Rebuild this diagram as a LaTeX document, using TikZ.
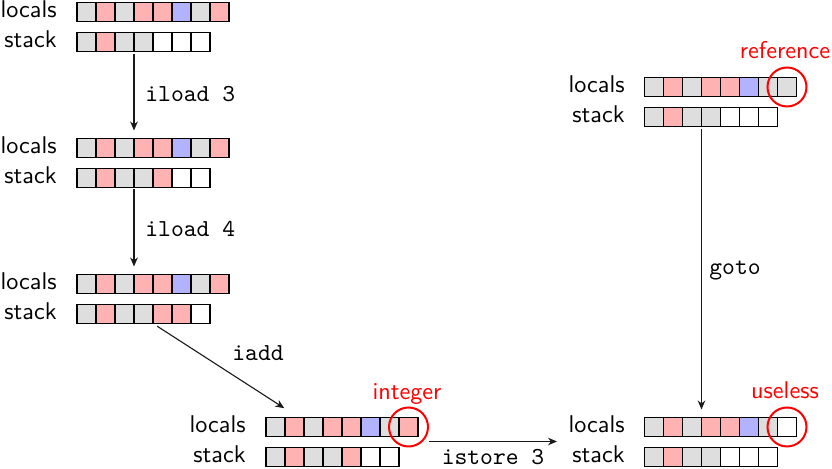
\documentclass[tikz,border=0pt]{standalone}
\usepackage{fontspec}
\setsansfont{lmsans10-regular.otf}
\setmonofont{lmmono10-regular.otf}
\usetikzlibrary{arrows.meta,calc}

% slot colours
\colorlet{cg}{black!13}
\colorlet{cp}{red!30}
\colorlet{cb}{blue!30}
\colorlet{cw}{white}

\tikzset{
  cell/.style={draw=black, line width=0.6pt, minimum size=9.5pt, inner sep=0pt, outer sep=0pt},
  lbl/.style={inner sep=0pt, font=\sffamily\fontsize{12.1}{14}\selectfont},
  instr/.style={inner sep=0pt, font=\ttfamily\fontsize{12.2}{14}\selectfont},
  note/.style={inner sep=0pt, text=red, font=\sffamily\fontsize{12.1}{14}\selectfont},
  ring/.style={draw=red, line width=1pt, circle, minimum size=19.5pt, inner sep=0pt},
  arr/.style={-{Stealth[length=4.5pt,width=3.8pt]}, line width=0.55pt, black!90}
}

% a row of slots: name prefix, left edge, centre line, list of fill colours
\newcommand\slotrow[4]{%
  \foreach \c [count=\i] in {#4}
    \node[cell, fill=\c] (#1\i) at ({#2+19*\i-9.5}, #3) {};
}

\begin{document}
\begin{tikzpicture}[x=0.5pt, y=-0.5pt]
  \useasboundingbox (0,0) rectangle (832,469);

  % frame 1
  \node[lbl, anchor=base east] (b1ln) at (57,18) {locals};
  \node[lbl, anchor=base east] (b1sn) at (57,48) {stack};
  \slotrow{b1l}{77}{12}{cg,cp,cg,cp,cp,cb,cg,cp}
  \slotrow{b1s}{77}{42}{cg,cp,cg,cg,cw,cw,cw}

  % frame 2
  \node[lbl, anchor=base east] (b2ln) at (57,154) {locals};
  \node[lbl, anchor=base east] (b2sn) at (57,184) {stack};
  \slotrow{b2l}{77}{148}{cg,cp,cg,cp,cp,cb,cg,cp}
  \slotrow{b2s}{77}{178}{cg,cp,cg,cg,cp,cw,cw}

  % frame 3
  \node[lbl, anchor=base east] (b3ln) at (57,290) {locals};
  \node[lbl, anchor=base east] (b3sn) at (57,320) {stack};
  \slotrow{b3l}{77}{284}{cg,cp,cg,cp,cp,cb,cg,cp}
  \slotrow{b3s}{77}{314}{cg,cp,cg,cg,cp,cp,cw}

  % frame 4
  \node[lbl, anchor=base east] (b4ln) at (246,433) {locals};
  \node[lbl, anchor=base east] (b4sn) at (246,463) {stack};
  \slotrow{b4l}{266}{427}{cg,cp,cg,cp,cp,cb,cg,cp}
  \slotrow{b4s}{266}{457}{cg,cp,cg,cg,cp,cw,cw}
  \node[ring] (c4) at (b4l8) {};
  \node[note, anchor=base] (n4) at (407,400) {integer};

  % frame 5
  \node[lbl, anchor=base east] (b5ln) at (625,433) {locals};
  \node[lbl, anchor=base east] (b5sn) at (625,463) {stack};
  \slotrow{b5l}{644.5}{427}{cg,cp,cg,cp,cp,cb,cg,cw}
  \slotrow{b5s}{644.5}{457}{cg,cp,cg,cg,cw,cw,cw}
  \node[ring] (c5) at (b5l8) {};
  \node[note, anchor=base] (n5) at (785,399) {useless};

  % frame 6
  \node[lbl, anchor=base east] (b6ln) at (625,93) {locals};
  \node[lbl, anchor=base east] (b6sn) at (625,123) {stack};
  \slotrow{b6l}{644.5}{87}{cg,cp,cg,cp,cp,cb,cg,cg}
  \slotrow{b6s}{644.5}{117}{cg,cp,cg,cg,cw,cw,cw}
  \node[ring] (c6) at (b6l8) {};
  \node[note, anchor=base] (n6) at (785,59) {reference};

  % transitions
  \draw[arr, shorten <=1.5pt, shorten >=4pt] (b1s3.south east) -- (b2l3.north east);
  \node[instr, anchor=west] (i1) at (145,94) {iload 3};

  \draw[arr, shorten <=1pt, shorten >=4pt] (b2s3.south east) -- (b3l3.north east);
  \node[instr, anchor=west] (i2) at (145,229) {iload 4};

  \draw[arr, shorten <=2.5pt, shorten >=4pt] (b3s4.south east) -- ($(b4l1.north east)+(6,-5)$);
  \node[instr, anchor=west] (i3) at (232,353) {iadd};

  \coordinate (t4) at (429,441.5);
  \coordinate (t5) at (557,441.5);
  \draw[arr] (t4) -- (t5);
  \node[instr, anchor=base] (i4) at (493,465) {istore 3};

  \draw[arr, shorten <=1.5pt, shorten >=4pt] (b6s3.south east) -- (b5l3.north east);
  \node[instr, anchor=base west] (i5) at (709,275) {goto};
\end{tikzpicture}
\end{document}
